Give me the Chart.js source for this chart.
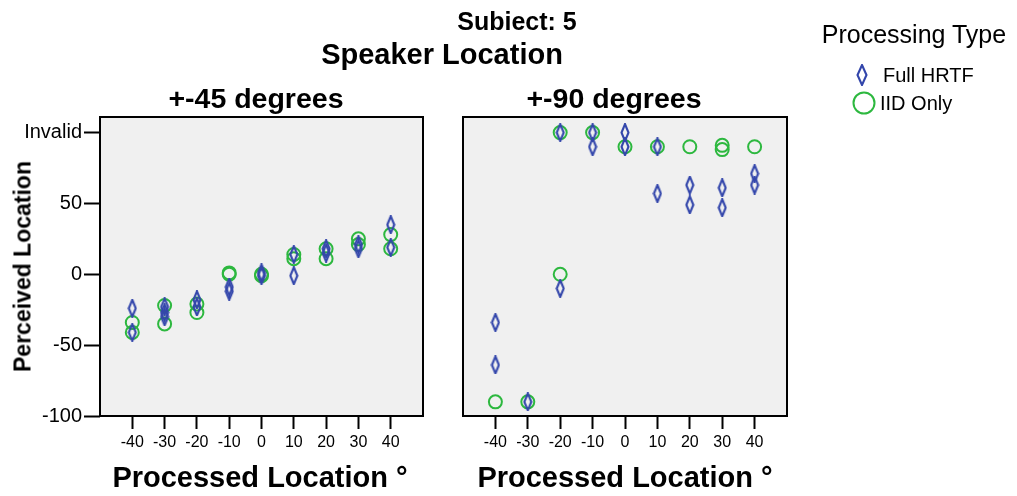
<!DOCTYPE html>
<html>
<head>
<meta charset="utf-8">
<script src="https://cdn.jsdelivr.net/npm/chart.js@4"></script>
<style>
  html, body { margin: 0; padding: 0; background: #fff; }
  #page { position: relative; width: 1017px; height: 496px; overflow: hidden; font-family: "Liberation Sans", Arial, sans-serif; color: #000; }
  #page canvas.panel { position: absolute; left: 0; top: 0; }
  .txt { position: absolute; white-space: nowrap; line-height: 1; text-align: center; }
  .bold { font-weight: bold; }
</style>
</head>
<body>
<div id="page">
  <canvas id="leftChart" class="panel" width="1017" height="496"></canvas>
  <canvas id="rightChart" class="panel" width="1017" height="496"></canvas>

  <div class="txt bold" style="left:417px; width:200px; top:9px; font-size:25px;">Subiect: 5</div>
  <div class="txt bold" style="left:292px; width:300px; top:40px; font-size:29px;">Speaker Location</div>
  <div class="txt bold" style="left:106px; width:300px; top:84px; font-size:28.5px;">+-45 degrees</div>
  <div class="txt bold" style="left:464px; width:300px; top:84px; font-size:28.5px;">+-90 degrees</div>
  <div class="txt bold" style="left:100px; width:320px; top:463px; font-size:29px;">Processed Location °</div>
  <div class="txt bold" style="left:465px; width:320px; top:463px; font-size:29px;">Processed Location °</div>
  <div class="txt bold" style="left:-127px; width:300px; top:255px; font-size:23px; transform:rotate(-90deg);">Perceived Location</div>

  <div class="txt" style="left:814px; width:200px; top:22px; font-size:25px;">Processing Type</div>
  <canvas id="legendHrtf" width="12" height="22" style="position:absolute; left:856px; top:64px;"></canvas>
  <div class="txt" style="left:883px; top:65px; font-size:20px; text-align:left;">Full HRTF</div>
  <canvas id="legendIid" width="26" height="26" style="position:absolute; left:851px; top:90px;"></canvas>
  <div class="txt" style="left:880px; top:93px; font-size:20px; text-align:left;">IID Only</div>
</div>

<script>
// processed (presented) locations, one column of responses per location
const locations = [-40, -30, -20, -10, 0, 10, 20, 30, 40];

// perceived locations, +-45 degree speakers
const hrtf45 = [[-24, -41], [-23, -27, -30], [-18, -23], [-9, -12], [1, -1], [14, -1], [18, 15], [21, 18], [35, 19]];
const iid45 = [[-34, -41], [-22, -35], [-21, -27], [1, 0], [0, -1], [14, 11], [18, 11], [25, 21], [28, 18]];

// perceived locations, +-90 degree speakers (100 = invalid response)
const hrtf90 = [[-34, -64], [-90], [100, -10], [100, 90], [100, 90], [90, 57], [63, 49], [61, 47], [71, 63]];
const iid90 = [[-90], [-90], [100, 0], [100], [90], [90], [90], [91, 88], [90]];

const xTickValues = [-40, -30, -20, -10, 0, 10, 20, 30, 40];
const xTickLabels = ["-40", "-30", "-20", "-10", "0", "10", "20", "30", "40"];
const yTickValues = [-100, -50, 0, 50, 100];
const yTickLabels = ["-100", "-50", "0", "50", "Invalid"];

const BLUE = "#3346ab";
const GREEN = "#2db83f";
const FONT = "'Liberation Sans', Arial, sans-serif";

// thin outlined diamond used for the HRTF marks
function drawDiamond(canvas, color) {
  const ctx = canvas.getContext("2d");
  const w = canvas.width, h = canvas.height;
  ctx.strokeStyle = color;
  ctx.lineWidth = 2.1;
  ctx.beginPath();
  ctx.moveTo(w / 2, 1);
  ctx.lineTo(w - 1.5, h / 2);
  ctx.lineTo(w / 2, h - 1);
  ctx.lineTo(1.5, h / 2);
  ctx.closePath();
  ctx.stroke();
  return canvas;
}

function makeDiamond(w, h, color) {
  const c = document.createElement("canvas");
  c.width = w;
  c.height = h;
  return drawDiamond(c, color);
}

const diamondMark = makeDiamond(10, 19, BLUE);

function toPoints(values) {
  return locations.flatMap((x, i) => values[i].map(y => ({ x: x, y: y })));
}

// grey plot area with a black frame
const framePlugin = {
  id: "frame",
  beforeDatasetsDraw(chart) {
    const a = chart.chartArea;
    const ctx = chart.ctx;
    ctx.save();
    ctx.fillStyle = "#f0f0f0";
    ctx.fillRect(a.left, a.top, a.right - a.left, a.bottom - a.top);
    ctx.restore();
  },
  afterDraw(chart) {
    const a = chart.chartArea;
    const ctx = chart.ctx;
    ctx.save();
    ctx.strokeStyle = "#000";
    ctx.lineWidth = 2;
    ctx.strokeRect(a.left, a.top, a.right - a.left, a.bottom - a.top);
    ctx.restore();
  }
};

function makePanel(canvasId, hrtfValues, iidValues, padLeft, padRight, showY) {
  return new Chart(document.getElementById(canvasId), {
    type: "scatter",
    data: {
      datasets: [
        {
          label: "Full HRTF",
          data: toPoints(hrtfValues),
          pointStyle: diamondMark,
          pointRadius: 5,
          pointHoverRadius: 5,
          borderColor: BLUE,
          backgroundColor: BLUE
        },
        {
          label: "IID Only",
          data: toPoints(iidValues),
          pointStyle: "circle",
          pointRadius: 6.5,
          pointHoverRadius: 6.5,
          borderWidth: 2,
          borderColor: GREEN,
          backgroundColor: "rgba(0,0,0,0)"
        }
      ]
    },
    options: {
      responsive: false,
      animation: false,
      devicePixelRatio: 1,
      layout: { padding: { left: padLeft, right: padRight, top: 117, bottom: 0 } },
      plugins: {
        legend: { display: false },
        title: { display: false },
        tooltip: { enabled: false }
      },
      scales: {
        x: {
          type: "linear",
          min: -50,
          max: 50,
          offset: false,
          afterBuildTicks: scale => {
            scale.ticks = xTickValues.map(v => ({ value: v }));
          },
          afterFit: scale => {
            scale.height = 80;
          },
          ticks: {
            color: "#000",
            padding: 4,
            maxRotation: 0,
            autoSkip: false,
            font: { family: FONT, size: 16 },
            callback: value => xTickLabels[xTickValues.indexOf(value)]
          },
          grid: {
            drawOnChartArea: false,
            drawTicks: true,
            tickLength: 13,
            tickColor: "#000",
            tickWidth: 2
          },
          border: { display: false }
        },
        y: {
          type: "linear",
          display: showY,
          min: -100,
          max: 111,
          afterBuildTicks: scale => {
            scale.ticks = yTickValues.map(v => ({ value: v }));
          },
          afterFit: scale => {
            scale.width = showY ? 100 : 0;
          },
          ticks: {
            color: "#000",
            padding: 2,
            autoSkip: false,
            font: { family: FONT, size: 20 },
            callback: value => yTickLabels[yTickValues.indexOf(value)]
          },
          grid: {
            drawOnChartArea: false,
            drawTicks: true,
            tickLength: 16,
            tickColor: "#000",
            tickWidth: 2
          },
          border: { display: false }
        }
      }
    },
    plugins: [framePlugin]
  });
}

makePanel("leftChart", hrtf45, iid45, 0, 1017 - 423, true);
makePanel("rightChart", hrtf90, iid90, 463, 1017 - 787, false);

// legend symbols
drawDiamond(document.getElementById("legendHrtf"), BLUE);
(function () {
  const ctx = document.getElementById("legendIid").getContext("2d");
  ctx.strokeStyle = GREEN;
  ctx.lineWidth = 2;
  ctx.beginPath();
  ctx.arc(13, 13, 10.5, 0, Math.PI * 2);
  ctx.stroke();
})();
</script>
</body>
</html>
